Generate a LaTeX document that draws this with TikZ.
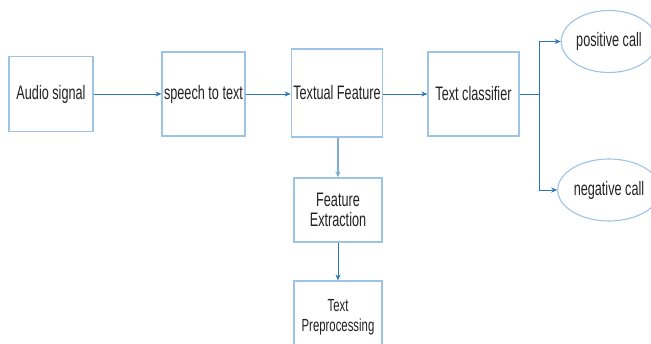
\documentclass[tikz,border=0pt]{standalone}
\usepackage{fontspec}
\setmainfont{Liberation Sans}[FakeStretch=0.65]
\usepackage{tikz}
\usetikzlibrary{positioning}
\usetikzlibrary{shapes.geometric}
\usetikzlibrary{arrows.meta}
\usepackage{xcolor}

\definecolor{boxblue}{HTML}{9DC3E6}
\definecolor{arrowblue}{HTML}{2E75B6}
\definecolor{txtgray}{HTML}{222222}

\tikzset{
    stagebox/.style={draw=boxblue, line width=1.3pt, fill=white, text=txtgray,
        minimum width=#1, align=center, inner sep=2pt,
        font=\fontsize{19.5}{20}\selectfont},
    outcome/.style={ellipse, draw=boxblue, line width=1.1pt, text=txtgray,
        minimum width=88pt, minimum height=62pt, inner sep=1pt,
        font=\fontsize{19.5}{20}\selectfont},
    flow/.style={arrowblue, line width=0.8pt, -{Stealth[length=6pt,width=5pt]}}
}

\begin{document}
\begin{tikzpicture}[x=1pt, y=-1pt]
    \useasboundingbox (0,0) rectangle (651,344);

    % Main row
    \node[stagebox=84pt, minimum height=75pt] (audio) at (51,94) {Audio signal};
    \node[stagebox=83pt, minimum height=84pt] (stt) at (203.5,94) {speech to text};
    \node[stagebox=90pt, minimum height=88pt] (textfeat) at (337,93) {Textual Feature};
    \node[stagebox=91pt, minimum height=84pt] (classifier) at (473.5,94) {Text classifier};

    % Lower column
    \node[stagebox=88pt, minimum height=64pt] (extract) at (338,210) {Feature\\Extraction};
    \node[stagebox=88pt, minimum height=72pt, font=\fontsize{17.5}{20}\selectfont]
        (prep) at (338,317) {Text\\Preprocessing};

    % Outcomes
    \node[outcome] (pos) at (609,41.5) {positive call};
    \node[outcome] (neg) at (609,190) {negative call};

    % Arrows
    \draw[flow] (audio) -- (stt);
    \draw[flow] (stt) -- (stt -| textfeat.west);
    \draw[flow] (textfeat.east |- classifier) -- (classifier);
    \draw[flow, boxblue!70!arrowblue, line width=1.3pt] (textfeat.south -| extract) -- (extract);
    \draw[flow] (extract) -- (prep);

    % Branch to the two calls
    \coordinate (split) at ([xshift=20pt]classifier.east);
    \draw[arrowblue, line width=0.8pt] (classifier.east) -- (split);
    \draw[flow] (split) |- (pos.west);
    \draw[flow] (split) |- (neg.west);
\end{tikzpicture}
\end{document}
